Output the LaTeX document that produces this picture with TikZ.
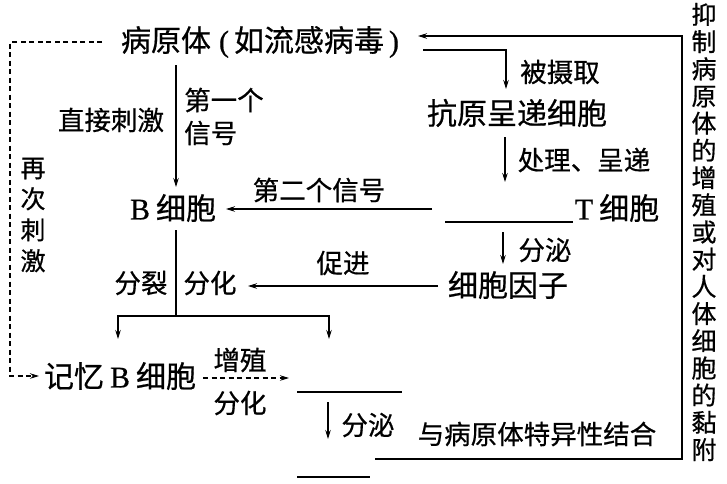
\documentclass[tikz,border=0pt]{standalone}
\usepackage{fontspec}
\setmainfont{Noto Sans CJK SC}[FakeBold=0.6]
\newfontfamily\lat{Liberation Serif}[FakeBold=0.6]
\usetikzlibrary{arrows.meta}
\begin{document}
\begin{tikzpicture}[x=1pt,y=-1pt,
  main/.style={inner sep=0pt,font=\fontsize{30}{32}\selectfont},
  small/.style={inner sep=0pt,font=\fontsize{26.5}{29}\selectfont},
  vert/.style={inner sep=0pt,align=center,font=\fontsize{25}{27.2}\selectfont},
  conn/.style={line width=1.1pt},
  arr/.style={conn,-{Stealth[length=9pt,width=5.5pt]}},
  darr/.style={arr,dash pattern=on 5pt off 3.5pt}]
\useasboundingbox (0,0) rectangle (727,483);
% nodes
\node[main] (pat) at (260,42) {病原体\hspace{8pt}{\lat (}\hspace{5pt}如流感病毒\hspace{5pt}{\lat )}};
\node[main] (apc) at (517,113) {抗原呈递细胞};
\node[main] (T) at (617,208) {{\lat T}\hspace{6pt}细胞};
\node[main] (B) at (173,208) {{\lat B}\hspace{6pt}细胞};
\node[main] (cyt) at (508,285) {细胞因子};
\node[main] (mem) at (120,376) {记忆\hspace{6pt}{\lat B}\hspace{6pt}细胞};
\node[small] (bind) at (537,434) {与病原体特异性结合};
\node[vert] (inh) at (704,232) {抑\\制\\病\\原\\体\\的\\增\\殖\\或\\对\\人\\体\\细\\胞\\的\\黏\\附};
\node[vert,font=\fontsize{25}{31}\selectfont] (again) at (33,215) {再\\次\\刺\\激};
% labels
\node[small] (l1) at (560,72) {被摄取};
\node[small] (l2) at (584,160) {处理、呈递};
\node[small] (l3) at (111,120) {直接刺激};
\node[small,anchor=west] (l4) at (184,100) {第一个};
\node[small,anchor=west] (l5) at (184,133) {信号};
\node[small] (l6) at (319,190) {第二个信号};
\node[small] (l7) at (545,250) {分泌};
\node[small] (l8) at (343,263) {促进};
\node[small] (l9) at (141,283) {分裂};
\node[small] (l10) at (210,283) {分化};
\node[small] (l11) at (240,360) {增殖};
\node[small] (l12) at (240,403) {分化};
\node[small] (l13) at (368,425) {分泌};
% coordinates
\coordinate (pe) at (418,36);
\coordinate (r3) at (682,36);
\coordinate (r2) at (682,459);
\coordinate (r1) at (375,459);
\coordinate (c1) at (423,50);
\coordinate (c2) at (506,50);
\coordinate (c3) at (506,89);
\coordinate (c4) at (505,137);
\coordinate (c5) at (505,182);
\coordinate (tl1) at (445,222);
\coordinate (tl2) at (573,222);
\coordinate (t2b1) at (432,209);
\coordinate (t2b2) at (226,209);
\coordinate (c6) at (503,232);
\coordinate (c7) at (503,264);
\coordinate (cy1) at (438,286);
\coordinate (cy2) at (248,286);
\coordinate (b1) at (176,65);
\coordinate (b2) at (176,187);
\coordinate (b3) at (176,230);
\coordinate (b4) at (176,316);
\coordinate (s1) at (118,316);
\coordinate (s2) at (329,316);
\coordinate (s1e) at (118,339);
\coordinate (s2e) at (329,339);
\coordinate (m1) at (203,378);
\coordinate (m2) at (289,378);
\coordinate (pl1) at (297,392);
\coordinate (pl2) at (402,392);
\coordinate (p1) at (328,402);
\coordinate (p2) at (328,439);
\coordinate (ab1) at (297,477);
\coordinate (ab2) at (370,477);
\coordinate (d1) at (102,42);
\coordinate (d2) at (10,42);
\coordinate (d3) at (10,376);
\coordinate (d4) at (39,376);
% connectors
\draw[arr] (r1) -- (r2) -- (r3) -- (pe);
\draw[arr] (c1) -- (c2) -- (c3);
\draw[arr] (c4) -- (c5);
\draw[conn] (tl1) -- (tl2);
\draw[arr] (t2b1) -- (t2b2);
\draw[arr] (c6) -- (c7);
\draw[arr] (cy1) -- (cy2);
\draw[arr] (b1) -- (b2);
\draw[conn] (b3) -- (b4);
\draw[arr] (b4) -- (s1) -- (s1e);
\draw[arr] (b4) -- (s2) -- (s2e);
\draw[darr] (m1) -- (m2);
\draw[conn] (pl1) -- (pl2);
\draw[arr] (p1) -- (p2);
\draw[conn] (ab1) -- (ab2);
\draw[darr] (d1) -- (d2) -- (d3) -- (d4);
\end{tikzpicture}
\end{document}
